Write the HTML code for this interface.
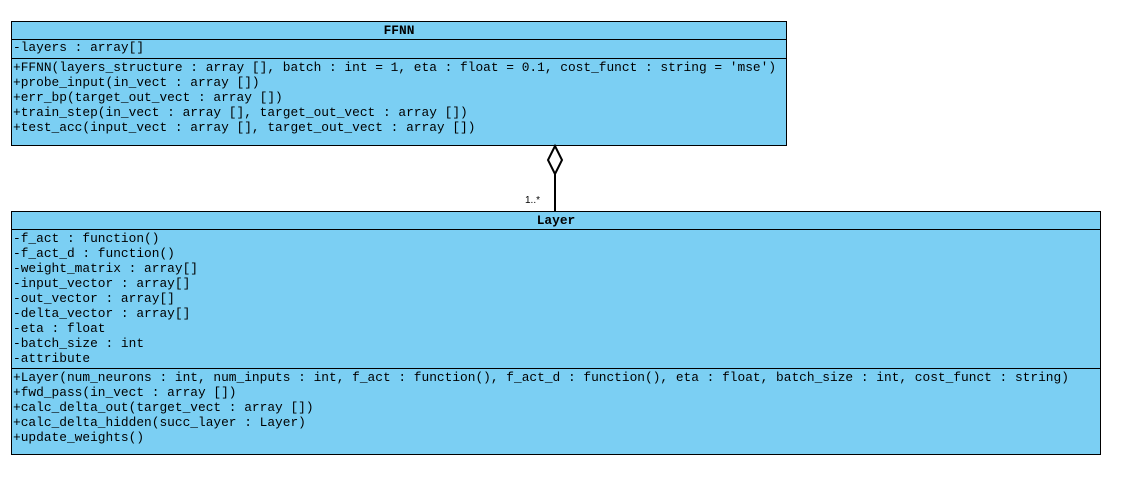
<!DOCTYPE html>
<html><head><style>
body{margin:0;width:1129px;height:495px;background:#fff;position:relative;overflow:hidden;font-family:"Liberation Mono",monospace;font-size:12.85px;color:#000}
.b{position:absolute;background:#7bcff3;border:1px solid #000;box-sizing:border-box}
.h{position:absolute;left:0;right:0;text-align:center;font-weight:bold;line-height:17px;top:0}
.s{position:absolute;left:0;right:0;border-top:1px solid #000}
.t{position:absolute;left:1px;line-height:15px;white-space:pre}
</style></head><body>
<div class="b" style="left:11px;top:21px;width:776px;height:125px">
<div class="h">FFNN</div>
<div class="s" style="top:17px"></div>
<div class="t" style="top:18px">-layers : array[]</div>
<div class="s" style="top:36px"></div>
<div class="t" style="top:38px">+FFNN(layers_structure : array [], batch : int = 1, eta : float = 0.1, cost_funct : string = 'mse')
+probe_input(in_vect : array [])
+err_bp(target_out_vect : array [])
+train_step(in_vect : array [], target_out_vect : array [])
+test_acc(input_vect : array [], target_out_vect : array [])</div>
</div>
<svg style="position:absolute;left:0;top:0" width="1129" height="495">
<polygon points="555,146 562,160 555,174 548,160" fill="#fff" stroke="#000" stroke-width="2"/>
<line x1="555" y1="174" x2="555" y2="211" stroke="#000" stroke-width="2"/>
<text x="525" y="203" font-family="Liberation Sans,sans-serif" font-size="10">1..*</text>
</svg>
<div class="b" style="left:11px;top:211px;width:1090px;height:244px">
<div class="h">Layer</div>
<div class="s" style="top:17px"></div>
<div class="t" style="top:19px">-f_act : function()
-f_act_d : function()
-weight_matrix : array[]
-input_vector : array[]
-out_vector : array[]
-delta_vector : array[]
-eta : float
-batch_size : int
-attribute</div>
<div class="s" style="top:156px"></div>
<div class="t" style="top:158px">+Layer(num_neurons : int, num_inputs : int, f_act : function(), f_act_d : function(), eta : float, batch_size : int, cost_funct : string)
+fwd_pass(in_vect : array [])
+calc_delta_out(target_vect : array [])
+calc_delta_hidden(succ_layer : Layer)
+update_weights()</div>
</div>
</body></html>
